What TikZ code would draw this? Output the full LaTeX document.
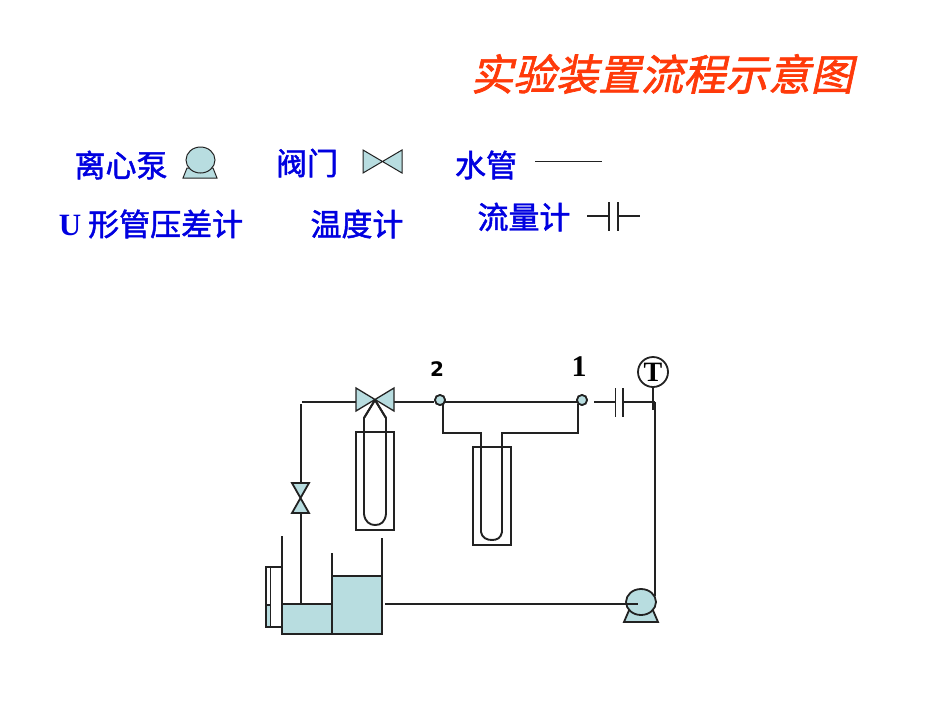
\documentclass[tikz,border=0pt]{standalone}
\usepackage{fontspec}
\setmainfont{Liberation Serif}
\newfontfamily\cjktitle[FakeSlant=0.22,FakeBold=1.6]{Noto Sans CJK SC}
\newfontfamily\cjklabel[FakeBold=1.5]{Noto Sans CJK SC}
\newfontfamily\dejabold{DejaVu Sans}
\usetikzlibrary{calc}
\definecolor{tealfill}{HTML}{B8DDE0}
\definecolor{labelblue}{HTML}{0000E0}
\definecolor{titlered}{HTML}{FF3A0A}
\definecolor{pipeline}{HTML}{222222}
\tikzset{
  lbl/.style={inner sep=0pt,text=labelblue,font={\cjklabel\fontsize{31}{34}\selectfont}},
  pipe/.style={draw=pipeline,line width=1.9pt},
  thin pipe/.style={draw=pipeline,line width=1.6pt},
  filled/.style={draw=pipeline,line width=1.8pt,fill=tealfill},
  legendshape/.style={draw=pipeline,line width=1pt,fill=tealfill},
  tap/.style={circle,draw=pipeline,line width=1.7pt,fill=tealfill,minimum size=10pt,inner sep=0pt},
  numlabel/.style={inner sep=0pt,text=black},
}
\begin{document}
\begin{tikzpicture}[x=1pt,y=-1pt]
\useasboundingbox (0,0) rectangle (950,713);
\fill[white] (0,0) rectangle (950,713);
% title
\node[inner sep=0pt,text=titlered,font={\cjktitle\fontsize{42.5}{46}\selectfont}] (title) at (662,74) {实验装置流程示意图};
% legend text
\node[lbl] (l1) at (121,165) {离心泵};
\node[lbl] (l2) at (307,163) {阀门};
\node[lbl] (l3) at (486,165) {水管};
\node[lbl] (l4) at (151,224) {{\bfseries\rmfamily U} 形管压差计};
\node[lbl] (l5) at (357,224) {温度计};
\node[lbl] (l6) at (524,217) {流量计};
% legend pump
\draw[legendshape] (187,168) -- (183,178) -- (217,178) -- (213,168) -- cycle;
\draw[legendshape] (200.5,160) ellipse (14.5 and 13);
% legend valve
\draw[legendshape] (363,150) -- (402,173) -- (402,150) -- (363,173) -- cycle;
% legend pipe
\coordinate (wa) at (535,161); \coordinate (wb) at (602,161);
\draw[draw=pipeline,line width=1pt] (wa) -- (wb);
% legend flowmeter
\draw[thin pipe] (587,216) -- (609,216) (609,202) -- (609,231) (618,202) -- (618,231) (618,216) -- (640,216);

% tanks
\draw[filled] (282,604) rectangle (332,634);
\draw[filled] (332,576) rectangle (382,634);
\draw[pipe] (282,604) -- (282,536);
\draw[pipe] (332,576) -- (332,553);
\draw[pipe] (382,576) -- (382,538);
% gauge glass
\fill[tealfill] (266,605) rectangle (270,627);
\draw[pipe,line width=1.5pt] (281,567) -- (266,567) -- (266,627) -- (281,627);
\draw[pipe,line width=1.5pt] (270.5,567) -- (270.5,627);
\draw[pipe,line width=1.5pt] (266,605) -- (270.5,605);

% U-tube left
\draw[pipe,line width=1.6pt] (356,432) rectangle (394,530);
\coordinate (vc) at (375,400);
\draw[pipe] (vc) -- (364,418) -- (364,514) .. controls (365,522) and (370,525) .. (375,525) .. controls (381,525) and (385,522) .. (386,514) -- (386,418) -- (vc);
% U-tube right
\draw[pipe,line width=1.6pt] (473,447) rectangle (511,545);
% piping
\node[tap] (t2) at (440,400) {};
\node[tap] (t1) at (582,400) {};
\coordinate (cL) at (302,402);
\draw[pipe] (394,402) -- (434,402);
\draw[pipe] (445,402) -- (577,402);
\draw[pipe] (443,404) -- (443,433) -- (481,433) -- (481,532) .. controls (482,538) and (487,540) .. (492,540) .. controls (497,540) and (501,538) .. (502,532) -- (502,433) -- (578,433) -- (578,404);
\draw[pipe] (cL) -- (356,402);
\draw[pipe] (301,404) -- (301,483);
\draw[pipe] (301,513) -- (301,604);
\draw[pipe] (297,603.5) -- (304,603.5);
\node[tap] at (t2) {};
\node[tap] at (t1) {};
% main valve
\draw[filled,line width=1.3pt] (356,388) -- (394,411) -- (394,388) -- (356,411) -- cycle;
\draw[pipe] (vc) -- (364,418) (vc) -- (386,418);
% riser valve
\draw[filled] (292,483) -- (309,483) -- (292,513) -- (309,513) -- cycle;
% flowmeter
\draw[pipe] (594,402) -- (616,402);
\draw[pipe] (615.5,388) -- (615.5,417);
\draw[pipe] (623,388) -- (623,417);
\draw[pipe] (623,402) -- (655,402);
% thermometer
\node[circle,draw=pipeline,line width=1.8pt,minimum size=30pt,inner sep=0pt,font={\bfseries\fontsize{28}{28}\selectfont}] (T) at (653,372) {T};
\draw[pipe] (T.south) -- (653,410);
\draw[pipe] (655,402) -- (655,596);
% pump
\draw[filled] (630,608) -- (624,622) -- (658,622) -- (652,608) -- cycle;
\draw[filled] (641,602) ellipse (15 and 13);
\coordinate (pin) at (385,604);
\draw[pipe] (pin) -- (638,604);
% numbers
\node[numlabel,font={\dejabold\bfseries\fontsize{20}{20}\selectfont}] (n2) at (437,369) {2};
\node[numlabel,font={\bfseries\fontsize{30}{30}\selectfont}] (n1) at (579,367) {1};
\end{tikzpicture}
\end{document}
